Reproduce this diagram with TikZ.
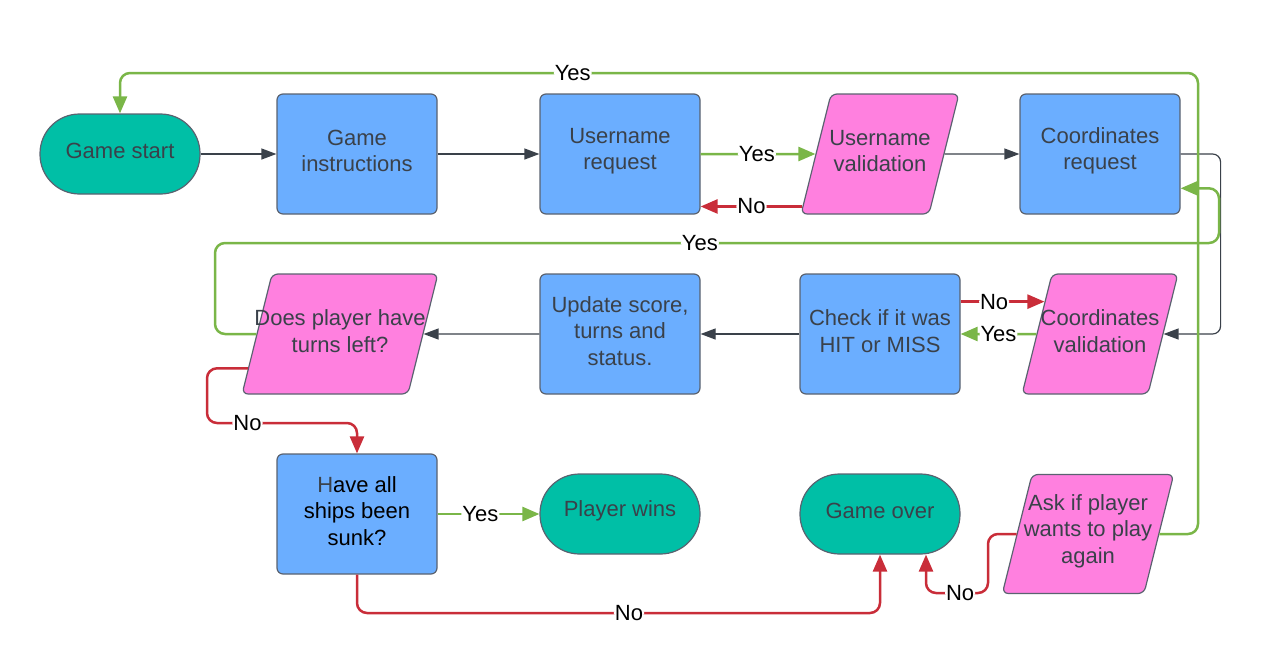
\documentclass[tikz,border=0pt]{standalone}
\usepackage{fontspec}
\setmainfont{Liberation Sans}
\usetikzlibrary{shapes.geometric,arrows.meta,calc}
\definecolor{teal1}{HTML}{00BFA6}
\definecolor{blue1}{HTML}{6BAEFF}
\definecolor{pink1}{HTML}{FF80DF}
\definecolor{txtc}{HTML}{3A414A}
\definecolor{bordc}{HTML}{5A6270}
\definecolor{linec}{HTML}{3A414A}
\definecolor{greenc}{HTML}{7AB648}
\definecolor{redc}{HTML}{C92D39}
\newcommand\parabody[2]{\rule{#1pt}{0pt}\rule{0pt}{#2pt}}
\begin{document}
\begin{tikzpicture}[x=1pt,y=-1pt,
  font=\fontsize{22}{26.5}\selectfont,
  box/.style={draw=bordc, line width=1.2pt, rounded corners=6pt, inner sep=0pt},
  procbox/.style={box, fill=blue1, minimum width=160pt, minimum height=120pt},
  termbox/.style={box, fill=teal1, minimum width=160pt, minimum height=80pt, rounded corners=39.5pt},
  parabox/.style={box, fill=pink1, trapezium, trapezium left angle=76, trapezium right angle=104},
  txt/.style={text=txtc, align=center, inner sep=0pt},
  tx/.style={label={[txt,yshift=3pt]center:{#1}}},
  conn/.style={line width=1.2pt, draw=linec, -{Triangle[length=15pt,width=11pt]}},
  yesc/.style={line width=2.5pt, draw=greenc, rounded corners=10pt, -{Triangle[length=17pt,width=14pt]}},
  noc/.style={line width=2.5pt, draw=redc, rounded corners=10pt, -{Triangle[length=17pt,width=14pt]}},
  lbl/.style={fill=white, text=black, inner sep=1pt}
]
\useasboundingbox (0,0) rectangle (1262,667);

% nodes
\node[termbox, tx={Game start}] (gs) at (120,154) {};
\node[procbox, tx={Game\\instructions}] (gi) at (357,154) {};
\node[procbox, tx={Username\\request}] (ur) at (620,154) {};
\node[parabox, tx={Username\\validation}] (uv) at (880,154) {\parabody{98}{120}};
\node[procbox, tx={Coordinates\\request}] (cr) at (1100,154) {};
\node[parabox, tx={Coordinates\\validation}] (cv) at (1100,334) {\parabody{96}{120}};
\node[procbox, tx={Check if it was\\HIT or MISS}] (ch) at (880,334) {};
\node[procbox, tx={Update score,\\turns and\\status.}] (us) at (620,334) {};
\node[parabox, tx={Does player have\\turns left?}] (dp) at (340,334) {\parabody{136}{120}};
\node[procbox, tx={H{\color{black}ave all}\\{\color{black}ships been}\\{\color{black}sunk?}}] (hs) at (357,514) {};
\node[termbox, tx={Player wins}] (pw) at (620,514) {};
\node[termbox, tx={Game over}] (go) at (880,514) {};
\node[parabox, tx={Ask if player\\wants to play\\again}] (ask) at (1088,534) {\parabody{112}{119}};

% connectors
\draw[conn] (gs.east) -- (gi.west);
\draw[conn] (gi.east) -- (ur.west);
\draw[yesc] (ur.east) -- node[lbl,pos=0.49]{Yes} (uv.west);
\coordinate (uvn) at ($(uv.bottom left corner)!0.067!(uv.top left corner)$);
\draw[noc] (uvn) -- node[lbl,pos=0.5]{No} (ur.east |- uvn);
\draw[conn] (uv.east) -- (cr.west);
\draw[conn, rounded corners=8pt] (cr.east) -- ++(40,0) |- (cv.east);
\draw[yesc] (cv.west) -- node[lbl]{Yes} (ch.east);
\coordinate (cvn) at ($(cv.bottom left corner)!0.767!(cv.top left corner)$);
\draw[noc] (ch.east |- cvn) -- node[lbl,pos=0.4]{No} (cvn);
\draw[conn] (ch.west) -- (us.east);
\draw[conn] (us.west) -- (dp.east);
\coordinate (cry) at ($(cr.south east)!0.217!(cr.north east)$);
\draw[yesc] (dp.west) -| (215,243) -- node[lbl,pos=0.483]{Yes} (1219,243) |- (cry);
\coordinate (dpn) at ($(dp.bottom left corner)!0.217!(dp.top left corner)$);
\draw[noc] (dpn) -| (207,423) -- node[lbl,pos=0.27]{No} (hs.north |- 0,423) -- (hs.north);
\draw[yesc] (hs.east) -- node[lbl,pos=0.42]{Yes} (pw.west);
\draw[noc] (hs.south) -- (hs.south |- 0,613) -- node[lbl,pos=0.52]{No} (go.south |- 0,613) -- (go.south);
\coordinate (gor) at ($(go.south)+(46,0)$);
\draw[noc] (ask.west) -| (988,593) -- node[lbl,pos=0.45]{No} (gor |- 0,593) -- (gor);
\draw[yesc] (ask.east) -| (1198,73) -- node[lbl,pos=0.58]{Yes} (gs.north |- 0,73) -- (gs.north);
\end{tikzpicture}
\end{document}
